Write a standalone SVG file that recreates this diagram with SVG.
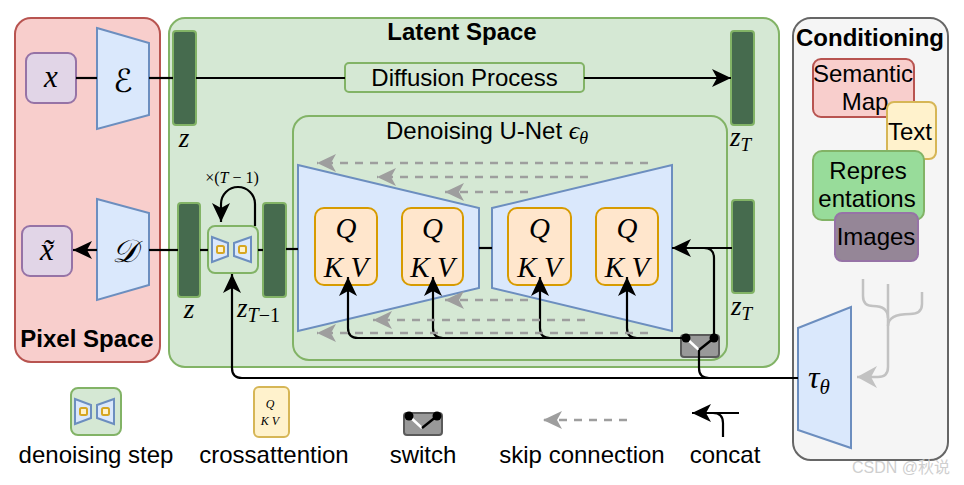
<svg xmlns="http://www.w3.org/2000/svg" xmlns:xlink="http://www.w3.org/1999/xlink" width="964" height="485" viewBox="0 0 964 485">
<style>
.sans{font-family:"Liberation Sans",Arial,sans-serif;fill:#000}
.lbl{font-size:24px;text-anchor:middle}
.ttl{font-weight:bold}
.m{font-family:"Liberation Serif","DejaVu Serif",serif;font-style:italic;fill:#000}
.up{font-style:normal}
.ln{fill:none;stroke:#000;stroke-width:2.2}
.sk{fill:none;stroke:#9e9e9e;stroke-width:2.5;stroke-dasharray:8 7}
.tree{fill:none;stroke:#c2c2c2;stroke-width:2.5}
.trap{fill:#dae8fc;stroke:#6c8ebf;stroke-width:2}
.bar{fill:#466b4e;stroke:#82b366;stroke-width:2}
.grn{fill:#d5e8d4;stroke:#82b366;stroke-width:2}
.qkv{fill:#ffe6cc;stroke:#d79b00;stroke-width:2}
.sq{fill:#fff2cc;stroke:#d6a622;stroke-width:2}
.pur{fill:#e1d5e7;stroke:#9673a6;stroke-width:2}
</style>
<defs>
<marker id="ah" markerUnits="userSpaceOnUse" markerWidth="20" markerHeight="18" refX="19" refY="9" orient="auto"><path d="M0,0 L19,9 L0,18 L5,9 Z" fill="#000"/></marker>
<marker id="ahg" markerUnits="userSpaceOnUse" markerWidth="20" markerHeight="18" refX="19" refY="9" orient="auto"><path d="M0,0 L19,9 L0,18 L5,9 Z" fill="#9e9e9e"/></marker>
<marker id="ahl" markerUnits="userSpaceOnUse" markerWidth="21" markerHeight="22" refX="20" refY="11" orient="auto"><path d="M0,0 L20,11 L0,22 L6,11 Z" fill="#c2c2c2"/></marker>
<g id="dstep">
<rect x="0" y="0" width="50" height="47" rx="7" class="grn"/>
<polygon points="4,11 20,17 20,30 4,36" class="trap"/>
<polygon points="26,17 43,11 43,36 26,30" class="trap"/>
<rect x="9" y="20" width="7" height="7" rx="1.5" class="sq"/>
<rect x="31" y="20" width="7" height="7" rx="1.5" class="sq"/>
</g>
<g id="switch">
<rect x="0" y="0" width="38" height="22" rx="3" fill="#999" stroke="#5a5a5a" stroke-width="2"/>
<line x1="5" y1="3" x2="18" y2="15" stroke="#fff" stroke-width="2.5"/>
<line x1="33" y1="3" x2="18" y2="15" stroke="#000" stroke-width="2.5"/>
<circle cx="5" cy="3" r="4.5" fill="#000"/>
<circle cx="33" cy="3" r="4.5" fill="#000"/>
</g>
</defs>
<rect width="964" height="485" fill="#fff"/>

<g id="pixel-space">
<rect x="15" y="18" width="145" height="344" rx="16" fill="#f8cecc" stroke="#b85450" stroke-width="2"/>
<text x="87" y="347" class="sans ttl" font-size="24" text-anchor="middle">Pixel Space</text>
</g>
<g id="latent-space">
<rect x="169" y="18" width="610" height="349" rx="16" class="grn"/>
<text x="462" y="40" class="sans ttl" font-size="24" text-anchor="middle">Latent Space</text>
</g>
<g id="conditioning">
<rect x="793" y="18" width="155" height="442" rx="18" fill="#f5f5f5" stroke="#666" stroke-width="2"/>
<text x="870" y="46" class="sans ttl" font-size="24" text-anchor="middle">Conditioning</text>
</g>

<g id="x-in">
<rect x="26" y="53" width="50" height="50" rx="8" class="pur"/>
<text x="51" y="87" class="m" font-size="31" text-anchor="middle">x</text>
</g>
<g id="encoder">
<polygon points="97,28 149,43 149,115 97,129" class="trap"/>
<text x="123" y="92" class="m" font-size="32" text-anchor="middle" style="font-family:'DejaVu Serif','DejaVu Sans',serif">ℰ</text>
</g>
<g id="z-top">
<rect x="173" y="31" width="23" height="94" rx="3" class="bar"/>
<text x="184" y="147" class="m" font-size="27" text-anchor="middle">z</text>
</g>
<g id="diffusion-process">
<rect x="345" y="63" width="239" height="29" rx="4" class="grn"/>
<text x="464.5" y="86" class="sans lbl">Diffusion Process</text>
</g>
<g id="zT-top">
<rect x="731" y="31" width="23" height="94" rx="3" class="bar"/>
<text x="730" y="146" class="m" font-size="27">z<tspan font-size="19" dy="5">T</tspan></text>
</g>

<g id="x-out">
<rect x="22" y="226" width="50" height="50" rx="8" class="pur"/>
<text x="47" y="260" class="m" font-size="31" text-anchor="middle">x̃</text>
</g>
<g id="decoder">
<polygon points="97,199 149,213 149,285 97,300" class="trap"/>
<text x="125" y="262" class="m" font-size="32" text-anchor="middle" style="font-family:'DejaVu Serif','DejaVu Sans',serif">𝒟</text>
</g>
<g id="z-bottom">
<rect x="178" y="203" width="22" height="94" rx="3" class="bar"/>
<text x="189" y="318" class="m" font-size="27" text-anchor="middle">z</text>
</g>
<g id="denoising-step">
<use xlink:href="#dstep" href="#dstep" x="208" y="226"/>
<text x="232" y="183" class="m up" font-size="16" text-anchor="middle">×(<tspan font-style="italic">T</tspan> − 1)</text>
</g>
<g id="zT-1">
<rect x="263" y="203" width="23" height="94" rx="3" class="bar"/>
<text x="237" y="317" class="m" font-size="27">z<tspan font-size="20" dy="5">T</tspan><tspan font-size="20" font-style="normal">−1</tspan></text>
</g>

<g id="unet">
<rect x="293" y="116" width="434" height="244" rx="16" class="grn"/>
<text x="386" y="139" class="sans" font-size="24">Denoising U-Net <tspan class="m" font-size="26">ϵ</tspan><tspan class="m" font-size="18" dy="5">θ</tspan></text>
<polygon points="298,165 479,208 479,288 298,331" class="trap"/>
<polygon points="492,208 672,165 672,331 492,288" class="trap"/>
</g>
<g id="qkv1">
<rect x="315" y="208" width="62" height="77" rx="9" class="qkv"/>
<text x="346" y="238" class="m" font-size="29" text-anchor="middle">Q</text>
<text x="346" y="277" class="m" font-size="29" text-anchor="middle">K V</text>
</g>
<g id="qkv2">
<rect x="402" y="208" width="61" height="77" rx="9" class="qkv"/>
<text x="432.5" y="238" class="m" font-size="29" text-anchor="middle">Q</text>
<text x="432.5" y="277" class="m" font-size="29" text-anchor="middle">K V</text>
</g>
<g id="qkv3">
<rect x="508" y="208" width="63" height="77" rx="9" class="qkv"/>
<text x="539.5" y="238" class="m" font-size="29" text-anchor="middle">Q</text>
<text x="539.5" y="277" class="m" font-size="29" text-anchor="middle">K V</text>
</g>
<g id="qkv4">
<rect x="596" y="208" width="62" height="77" rx="9" class="qkv"/>
<text x="627" y="238" class="m" font-size="29" text-anchor="middle">Q</text>
<text x="627" y="277" class="m" font-size="29" text-anchor="middle">K V</text>
</g>
<g id="zT-bottom">
<rect x="732" y="200" width="22" height="93" rx="3" class="bar"/>
<text x="731" y="315" class="m" font-size="27">z<tspan font-size="19" dy="5">T</tspan></text>
</g>

<g id="semantic-map">
<rect x="813" y="59" width="101" height="58" rx="8" fill="#f8cecc" stroke="#b85450" stroke-width="2"/>
<text x="863" y="82" class="sans lbl">Semantic</text>
<text x="865" y="110" class="sans lbl">Map</text>
</g>
<g id="text-cond">
<rect x="887" y="102" width="49" height="57" rx="7" fill="#fff2cc" stroke="#d6b656" stroke-width="2"/>
<text x="910" y="140" class="sans lbl">Text</text>
</g>
<g id="representations">
<rect x="813" y="151" width="111" height="69" rx="9" fill="#98dc9a" stroke="#82b366" stroke-width="2"/>
<text x="868" y="179" class="sans lbl">Repres</text>
<text x="867" y="207" class="sans lbl">entations</text>
</g>
<g id="images">
<rect x="835" y="213" width="83" height="48" rx="7" fill="#958697" stroke="#9673a6" stroke-width="2"/>
<text x="876" y="245" class="sans lbl">Images</text>
</g>
<g id="tau">
<polygon points="798,328 851,307 851,448 798,430" class="trap"/>
<text x="808" y="388" class="m" font-size="32">τ<tspan font-size="21" dy="6">θ</tspan></text>
</g>
<g id="switch-node">
<use xlink:href="#switch" href="#switch" x="681" y="335"/>
</g>

<g id="connectors">
<path class="ln" d="M76,78 H97"/>
<path class="ln" d="M149,78 H173"/>
<path class="ln" d="M196,78 H345"/>
<path class="ln" d="M584,78 H731" marker-end="url(#ah)"/>
<path class="ln" d="M178,250 H149"/>
<path class="ln" d="M97,250 H73" marker-end="url(#ah)"/>
<path class="ln" d="M200,250 H208"/>
<path class="ln" d="M258,250 H263"/>
<path class="ln" d="M286,249 H298"/>
<path class="ln" d="M479,248 H492"/>
<path class="ln" d="M255,226 V204 A17,17 0 0 0 221,204 V222" marker-end="url(#ah)"/>
<path class="ln" d="M798,378 H242 Q232,378 232,368 V274" marker-end="url(#ah)"/>
<path class="ln" d="M699,350 V368 Q699,378 709,378"/>
<path class="ln" d="M686,338 H358 Q348,338 348,328 V277" marker-end="url(#ah)"/>
<path class="ln" d="M443,338 Q433,338 433,328 V277" marker-end="url(#ah)"/>
<path class="ln" d="M550,338 Q540,338 540,328 V277" marker-end="url(#ah)"/>
<path class="ln" d="M637,338 Q627,338 627,328 V277" marker-end="url(#ah)"/>
<path class="ln" d="M732,248 H672" marker-end="url(#ah)"/>
<path class="ln" d="M714,338 V258 Q714,248 704,248"/>
<path class="sk" d="M648,163 H317" marker-end="url(#ahg)"/>
<path class="sk" d="M588,177 H377" marker-end="url(#ahg)"/>
<path class="sk" d="M528,192 H445" marker-end="url(#ahg)"/>
<path class="sk" d="M528,300 H445" marker-end="url(#ahg)"/>
<path class="sk" d="M585,320 H373" marker-end="url(#ahg)"/>
<path class="sk" d="M648,333 H317" marker-end="url(#ahg)"/>
<path class="tree" d="M888,284 V367 Q888,377 878,377 H857" marker-end="url(#ahl)"/>
<path class="tree" d="M863,279 V296 Q863,306 873,306 Q888,306 888,318"/>
<path class="tree" d="M922,292 V304 Q922,314 910,314 Q888,314 888,326"/>
</g>

<g id="legend">
<use xlink:href="#dstep" href="#dstep" x="71" y="388"/>
<text x="96" y="463" class="sans lbl">denoising step</text>
<rect x="254" y="387" width="35" height="50" rx="5" fill="#fff2cc" stroke="#d6b656" stroke-width="2"/>
<text x="270" y="408" class="m" font-size="12" text-anchor="middle">Q</text>
<text x="270" y="425" class="m" font-size="12" text-anchor="middle">K V</text>
<text x="274" y="463" class="sans lbl">crossattention</text>
<use xlink:href="#switch" href="#switch" x="404" y="413"/>
<text x="423" y="463" class="sans lbl">switch</text>
<path class="sk" d="M627,420 H543" marker-end="url(#ahg)"/>
<text x="582" y="463" class="sans lbl">skip connection</text>
<path class="ln" d="M739,413 H692" marker-end="url(#ah)"/>
<path class="ln" d="M723,437 V423 Q723,413 713,413"/>
<text x="725" y="463" class="sans lbl">concat</text>
</g>
<text x="852" y="473" font-family="Liberation Sans,'Noto Sans CJK SC',sans-serif" font-size="16" fill="#cfcfcf">CSDN @秋说</text>
</svg>
